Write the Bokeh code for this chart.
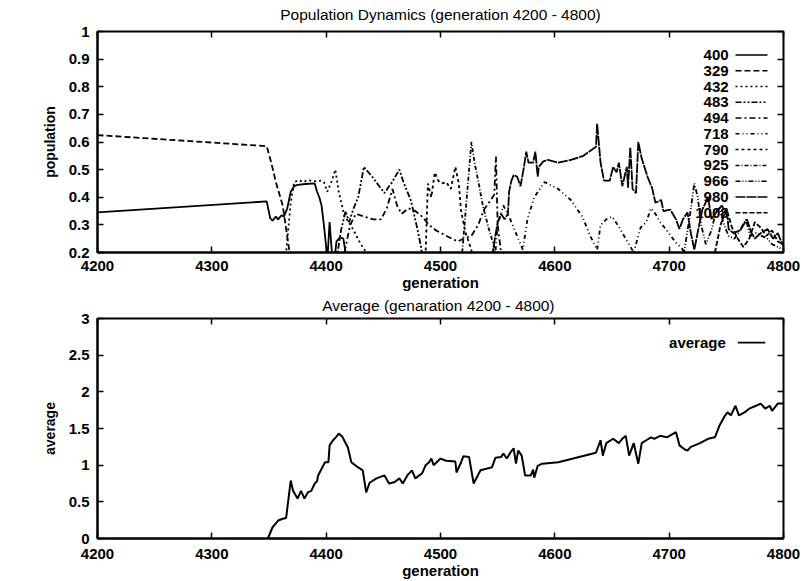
from bokeh.plotting import figure
from bokeh.layouts import column
from bokeh.models import FixedTicker, LinearAxis, CustomJSTickFormatter, Range1d
from bokeh.core.properties import value
from bokeh.embed import file_html
from bokeh.resources import INLINE

FONT = "Liberation Sans"

# ---- axis ticks -------------------------------------------------------------
gen_ticks = [4200, 4300, 4400, 4500, 4600, 4700, 4800]
pop_ticks = [0.2, 0.3, 0.4, 0.5, 0.6, 0.7, 0.8, 0.9, 1.0]
avg_ticks = [0, 0.5, 1.0, 1.5, 2.0, 2.5, 3.0]

# ---- population of each species, (generation, share) ----------------------
s400 = [(4200, 0.345), (4348, 0.385), (4351, 0.325), (4353, 0.315), (4356, 0.33),
        (4358, 0.32), (4361, 0.335), (4363, 0.33), (4366, 0.36), (4369, 0.42),
        (4372, 0.44), (4375, 0.445), (4382, 0.448), (4390, 0.45), (4392, 0.42),
        (4394, 0.40), (4396, 0.37), (4398, 0.30), (4400, 0.22), (4401, 0.17),
        (4403, 0.31), (4405, 0.20), (4407, 0.16), (4409, 0.24), (4412, 0.255),
        (4415, 0.25), (4417, 0.20), (4420, 0.10)]
s329 = [(4200, 0.625), (4348, 0.585), (4352, 0.525), (4356, 0.455), (4362, 0.37),
        (4368, 0.20), (4372, 0.10)]
s432 = [(4362, 0.10), (4365, 0.20), (4369, 0.38), (4372, 0.455), (4376, 0.462),
        (4380, 0.455), (4384, 0.462), (4390, 0.458), (4396, 0.46), (4398, 0.455),
        (4401, 0.42), (4405, 0.46), (4408, 0.50), (4411, 0.42), (4416, 0.33),
        (4420, 0.31), (4424, 0.28), (4429, 0.24), (4435, 0.20), (4440, 0.10)]
s483 = [(4405, 0.10), (4410, 0.20), (4413, 0.28), (4417, 0.35), (4420, 0.31),
        (4424, 0.36), (4428, 0.40), (4433, 0.51), (4441, 0.47), (4451, 0.415),
        (4455, 0.44), (4457, 0.45), (4464, 0.50), (4468, 0.45), (4474, 0.39),
        (4479, 0.30), (4483, 0.22), (4486, 0.10)]
s494 = [(4412, 0.10), (4416, 0.20), (4421, 0.30), (4426, 0.34), (4433, 0.33),
        (4441, 0.32), (4448, 0.32), (4453, 0.36), (4458, 0.43), (4462, 0.37),
        (4466, 0.34), (4472, 0.36), (4478, 0.35), (4484, 0.33), (4490, 0.30),
        (4496, 0.28), (4503, 0.265), (4510, 0.25), (4515, 0.24), (4520, 0.25),
        (4527, 0.26), (4533, 0.30), (4538, 0.355), (4544, 0.39), (4547, 0.41),
        (4548.5, 0.547), (4550, 0.30), (4553, 0.20), (4556, 0.10)]
s718 = [(4546, 0.10), (4550, 0.30), (4555, 0.37), (4560, 0.33), (4566, 0.27),
        (4572, 0.21), (4576, 0.32), (4582, 0.40), (4591, 0.455), (4603, 0.43),
        (4614, 0.39), (4624, 0.33), (4631, 0.26), (4637, 0.21), (4640, 0.30),
        (4645, 0.32), (4650, 0.33), (4655, 0.30), (4662, 0.25), (4669, 0.20),
        (4675, 0.29), (4680, 0.31), (4684, 0.36), (4688, 0.34), (4692, 0.31),
        (4698, 0.28), (4705, 0.24), (4712, 0.21), (4716, 0.10)]
s790 = [(4483, 0.10), (4487, 0.20), (4489, 0.45), (4492, 0.40), (4495, 0.49),
        (4498, 0.46), (4501, 0.45), (4505, 0.455), (4509, 0.43), (4513, 0.51),
        (4516, 0.45), (4518, 0.35), (4522, 0.27), (4527, 0.21), (4530, 0.10)]
s925 = [(4519, 0.20), (4524, 0.45), (4527, 0.60), (4530, 0.52), (4533, 0.46),
        (4537, 0.37), (4542, 0.29), (4547, 0.22), (4550, 0.10)]
s966 = [(4708, 0.10), (4713, 0.20), (4718, 0.33), (4722, 0.45), (4725, 0.40),
        (4728, 0.30), (4732, 0.23), (4737, 0.28), (4741, 0.35), (4744, 0.36),
        (4748, 0.30), (4752, 0.26), (4757, 0.25), (4762, 0.28), (4767, 0.32),
        (4771, 0.26), (4776, 0.27), (4781, 0.26), (4786, 0.25), (4790, 0.23),
        (4795, 0.22), (4800, 0.21)]
s980 = [(4543, 0.10), (4546, 0.21), (4550, 0.31), (4553, 0.34), (4556, 0.32),
        (4559, 0.34), (4560, 0.42), (4562, 0.46), (4564, 0.48), (4567, 0.475),
        (4570, 0.44), (4573, 0.51), (4575, 0.565), (4577, 0.525), (4581, 0.525),
        (4583, 0.565), (4585, 0.475), (4586, 0.51), (4590, 0.53), (4594, 0.535),
        (4603, 0.525), (4614, 0.535), (4625, 0.55), (4636, 0.583), (4637, 0.666),
        (4640, 0.525), (4643, 0.46), (4648, 0.46), (4651, 0.51), (4654, 0.49),
        (4656, 0.525), (4659, 0.44), (4663, 0.51), (4664, 0.435), (4666, 0.58),
        (4668, 0.43), (4671, 0.415), (4673, 0.60), (4676, 0.54), (4681, 0.475),
        (4685, 0.435), (4688, 0.38), (4693, 0.39), (4695, 0.35), (4701, 0.355),
        (4706, 0.32), (4709, 0.285), (4712, 0.32), (4716, 0.345), (4719, 0.27),
        (4722, 0.21), (4726, 0.295), (4729, 0.355), (4734, 0.40), (4737, 0.32),
        (4741, 0.345), (4746, 0.37), (4751, 0.33), (4752, 0.285), (4756, 0.27),
        (4762, 0.28), (4768, 0.32), (4772, 0.27), (4775, 0.25), (4780, 0.27),
        (4786, 0.285), (4791, 0.25), (4795, 0.27), (4800, 0.22)]
s1008 = [(4735, 0.10), (4740, 0.20), (4745, 0.30), (4750, 0.36), (4755, 0.29),
         (4760, 0.25), (4765, 0.22), (4770, 0.25), (4775, 0.31), (4780, 0.29),
         (4785, 0.26), (4790, 0.28), (4795, 0.24), (4800, 0.23)]

species = ["400", "329", "432", "483", "494", "718", "790", "925", "966", "980", "1008"]
species_data = [s400, s329, s432, s483, s494, s718, s790, s925, s966, s980, s1008]
species_dash = ["solid", "6 3", "2 3", "6 2 2 2 2 2", "6 3 2 3", "4 3 1 3 1 3",
                "3 3", "4 2 1 2", "5 2 1 2 1 2", "10 1", "5 2"]

# ---- average over the population, (generation, average) -------------------
avg = [(4349, 0.0), (4353, 0.15), (4358, 0.245), (4362, 0.27), (4365, 0.28),
       (4366, 0.41), (4369, 0.79), (4371, 0.65), (4375, 0.545), (4378, 0.65),
       (4381, 0.545), (4384, 0.63), (4387, 0.65), (4390, 0.75), (4392, 0.78),
       (4393, 0.86), (4396, 0.95), (4399, 1.04), (4402, 1.04), (4403, 1.27),
       (4406, 1.34), (4409, 1.39), (4411, 1.43), (4414, 1.39), (4419, 1.24),
       (4422, 1.04), (4427, 0.98), (4432, 0.93), (4435, 0.63), (4438, 0.76),
       (4444, 0.82), (4451, 0.86), (4455, 0.75), (4460, 0.77), (4464, 0.82),
       (4467, 0.75), (4471, 0.86), (4475, 0.93), (4478, 0.82), (4484, 0.89),
       (4487, 1.0), (4490, 1.04), (4492, 1.09), (4494, 1.0), (4500, 1.09),
       (4505, 1.06), (4513, 1.05), (4514, 0.9), (4518, 1.04), (4520, 1.12),
       (4525, 1.11), (4529, 0.75), (4535, 0.93), (4540, 0.95), (4545, 0.97),
       (4548, 1.1), (4553, 1.11), (4555, 1.16), (4558, 1.09), (4561, 1.17),
       (4564, 1.23), (4566, 1.02), (4568, 1.2), (4571, 1.13), (4574, 0.86),
       (4579, 0.86), (4581, 0.94), (4582, 0.83), (4585, 0.99), (4589, 1.02),
       (4603, 1.04), (4616, 1.09), (4636, 1.17), (4640, 1.34), (4642, 1.13),
       (4645, 1.3), (4651, 1.36), (4656, 1.3), (4659, 1.36), (4662, 1.4),
       (4665, 1.13), (4669, 1.3), (4673, 1.02), (4676, 1.3), (4680, 1.34),
       (4684, 1.38), (4687, 1.36), (4692, 1.4), (4698, 1.38), (4706, 1.45),
       (4709, 1.27), (4714, 1.21), (4716, 1.2), (4719, 1.25), (4727, 1.3),
       (4734, 1.36), (4740, 1.38), (4744, 1.54), (4749, 1.68), (4751, 1.72),
       (4754, 1.68), (4758, 1.81), (4761, 1.68), (4766, 1.72), (4770, 1.77),
       (4776, 1.81), (4780, 1.84), (4784, 1.77), (4788, 1.81), (4790, 1.74),
       (4795, 1.84), (4800, 1.84)]


def fmt(v):
    return ("%g" % v)


def style(p, xticks, yticks, xlabel, ylabel, heading, x_standoff, head_standoff):
    p.xaxis.ticker = FixedTicker(ticks=xticks)
    p.yaxis.ticker = FixedTicker(ticks=yticks)
    p.xaxis.major_label_overrides = {t: fmt(t) for t in xticks}
    p.yaxis.major_label_overrides = {t: fmt(t) for t in yticks}
    p.xaxis.axis_label = xlabel
    p.yaxis.axis_label = ylabel
    for ax in (p.xaxis[0], p.yaxis[0]):
        ax.axis_line_width = 2
        ax.axis_line_color = "black"
        ax.major_tick_in = 6
        ax.major_tick_out = 0
        ax.major_tick_line_width = 1.5
        ax.minor_tick_line_color = None
        ax.major_label_text_font = FONT
        ax.major_label_text_font_style = "bold"
        ax.major_label_text_font_size = "15px"
        ax.major_label_text_color = "black"
        ax.axis_label_text_font = FONT
        ax.axis_label_text_font_style = "bold"
        ax.axis_label_text_color = "black"
    p.xaxis.axis_label_text_font_size = "15px"
    p.yaxis.axis_label_text_font_size = "14px"
    p.xaxis.major_label_standoff = x_standoff
    p.xaxis.axis_label_standoff = 0
    p.yaxis.major_label_standoff = 8
    p.yaxis.axis_label_standoff = 8
    # top edge: inward ticks, with the panel heading as its label
    blank = CustomJSTickFormatter(code="return ''")
    top = LinearAxis(ticker=FixedTicker(ticks=xticks), formatter=blank,
                     major_tick_in=6, major_tick_out=0, major_tick_line_width=1.5,
                     minor_tick_line_color=None, axis_line_color=None,
                     major_label_standoff=0, major_label_text_font_size="0px",
                     axis_label=heading, axis_label_standoff=head_standoff,
                     axis_label_text_font=FONT, axis_label_text_font_style="normal",
                     axis_label_text_font_size="15.5px", axis_label_text_color="black")
    right = LinearAxis(ticker=FixedTicker(ticks=yticks), formatter=blank,
                       major_tick_in=6, major_tick_out=0, major_tick_line_width=1.5,
                       minor_tick_line_color=None, axis_line_color=None,
                       major_label_standoff=0, major_label_text_font_size="0px")
    p.add_layout(top, "above")
    p.add_layout(right, "right")
    p.grid.visible = False
    p.outline_line_color = "black"
    p.outline_line_width = 2
    p.outline_line_alpha = 1
    p.background_fill_color = "white"
    p.border_fill_color = "white"


# ---- population dynamics ----------------------------------------------------
p1 = figure(width=804, height=293, output_backend="svg", toolbar_location=None,
            x_range=Range1d(4200, 4800), y_range=Range1d(0.2, 1.0),
            min_border_left=96, min_border_right=21, min_border_top=31,
            min_border_bottom=40)
style(p1, gen_ticks, pop_ticks, "generation", "population",
      "Population Dynamics (generation 4200 - 4800)", 8, 9)

for name, pts, dash in zip(species, species_data, species_dash):
    xs = [g for g, _ in pts]
    ys = [v for _, v in pts]
    p1.line(xs, ys, line_color="black", line_width=1.8, line_dash=dash)

# key in the upper right corner: label, then line sample
row_step = 0.0571
key_y = [0.915 - i * row_step for i in range(len(species))]
p1.text(x=[4752] * len(species), y=key_y, text=species, text_align="right",
        text_baseline="middle", text_font=value(FONT), text_font_style="bold",
        text_font_size="15px", text_color="black")
for ky, dash in zip(key_y, species_dash):
    p1.line([4758, 4786], [ky, ky], line_color="black", line_width=1.5, line_dash=dash)

# ---- average ----------------------------------------------------------------
p2 = figure(width=804, height=288, output_backend="svg", toolbar_location=None,
            x_range=Range1d(4200, 4800), y_range=Range1d(0, 3),
            min_border_left=97, min_border_right=18, min_border_top=25,
            min_border_bottom=43)
style(p2, gen_ticks, avg_ticks, "generation", "average",
      "Average (genaration 4200 -  4800)", 10, 5)

p2.line([g for g, _ in avg], [v for _, v in avg], line_color="black", line_width=2)
p2.text(x=[4749.5], y=[2.67], text=["average"], text_align="right",
        text_baseline="middle", text_font=value(FONT), text_font_style="bold",
        text_font_size="15px", text_color="black")
p2.line([4760, 4784], [2.67, 2.67], line_color="black", line_width=1.8)

layout = column(p1, p2, spacing=0)
open("out.html", "w").write(file_html(layout, INLINE))
